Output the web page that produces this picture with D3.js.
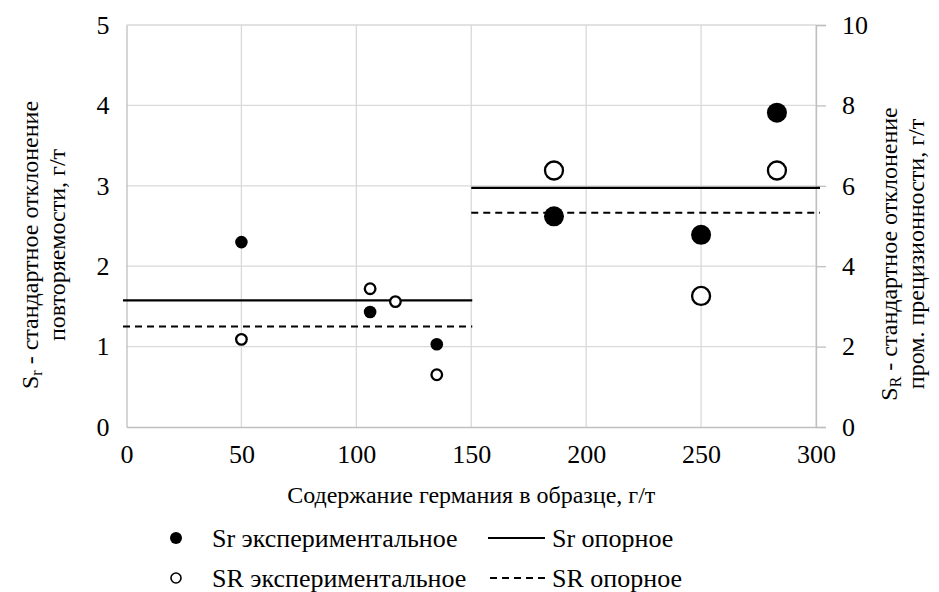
<!DOCTYPE html>
<html>
<head>
<meta charset="utf-8">
<script src="https://cdn.jsdelivr.net/npm/d3@7"></script>
<style>
  body { margin: 0; background: #fff; }
</style>
</head>
<body>
<div id="chart"></div>
<script>
// Data
var xSr = [50, 106, 135, 186, 250, 283];          // Sr experimental, x
var srExp = [2.30, 1.43, 1.03, 2.62, 2.39, 3.91];  // left axis
var xSR = [50, 106, 117, 135, 186, 250, 283];     // SR experimental, x
var SRExp = [2.18, 3.44, 3.12, 1.30, 6.38, 3.26, 6.38]; // right axis
var refRanges = [[0, 150], [150, 300]];
var srRef = [1.575, 2.975];   // left axis
var SRRef = [2.50, 5.33];     // right axis
var xTicks = [0, 50, 100, 150, 200, 250, 300];
var yLeftTicks = [0, 1, 2, 3, 4, 5];
var yRightTicks = [0, 2, 4, 6, 8, 10];

var W = 939, H = 592;
var FONT = "'Liberation Serif', 'Times New Roman', serif";
var FS = "26px";      // ticks, legend
var FT = "24px";      // axis titles
var svg = d3.select("#chart").append("svg")
    .attr("width", W)
    .attr("height", H)
    .style("font-family", FONT);

var x = d3.scaleLinear().domain([0, 300]).range([126.5, 816]);
var yL = d3.scaleLinear().domain([0, 5]).range([427, 25]);
var yR = d3.scaleLinear().domain([0, 10]).range([427, 25]);

// gridlines
svg.append("g").selectAll("line")
    .data(xTicks.slice(1))
    .enter().append("line")
    .attr("x1", function (d) { return x(d); })
    .attr("x2", function (d) { return x(d); })
    .attr("y1", yL(0))
    .attr("y2", yL(5))
    .style("stroke", "#d9d9d9")
    .style("stroke-width", 1.3);

svg.append("g").selectAll("line")
    .data(yLeftTicks.slice(1))
    .enter().append("line")
    .attr("x1", x(0))
    .attr("x2", x(300))
    .attr("y1", function (d) { return yL(d); })
    .attr("y2", function (d) { return yL(d); })
    .style("stroke", "#d9d9d9")
    .style("stroke-width", 1.3);

// axes
var axisBottom = svg.append("g")
    .attr("transform", "translate(0," + yL(0) + ")")
    .call(d3.axisBottom(x).tickValues(xTicks).tickSize(0).tickPadding(18).tickFormat(d3.format("d")));
var axisLeft = svg.append("g")
    .attr("transform", "translate(" + x(0) + ",0)")
    .call(d3.axisLeft(yL).tickValues(yLeftTicks).tickSize(0).tickPadding(17).tickFormat(d3.format("d")));
var axisRight = svg.append("g")
    .attr("transform", "translate(" + x(300) + ",0)")
    .call(d3.axisRight(yR).tickValues(yRightTicks).tickSize(10).tickPadding(16).tickFormat(d3.format("d")));

[axisBottom, axisLeft, axisRight].forEach(function (a) {
    a.attr("font-family", null).attr("font-size", null);
    a.select(".domain").style("stroke", "#bfbfbf").style("stroke-width", 1.3);
    a.selectAll(".tick line").style("stroke", "#bfbfbf").style("stroke-width", 1.3);
    a.selectAll("text")
        .style("font-family", FONT)
        .style("font-size", FS)
        .style("fill", "#000");
});

// reference lines
function refLines(values, scale, dash) {
    svg.append("g").selectAll("line")
        .data(values)
        .enter().append("line")
        .attr("x1", function (d, i) { return x(refRanges[i][0]) - (i === 0 ? 3.5 : 0); })
        .attr("x2", function (d, i) { return x(refRanges[i][1]) + (i === 0 ? 1 : 4); })
        .attr("y1", function (d) { return scale(d); })
        .attr("y2", function (d) { return scale(d); })
        .style("stroke", "#000")
        .style("stroke-width", 2.2)
        .style("stroke-dasharray", dash);
}
refLines(srRef, yL, null);
refLines(SRRef, yR, "7,5");

// markers: small below 150, large above
function rad(xv) { return xv > 150 ? 10 : 6.3; }

svg.append("g").selectAll("circle")
    .data(xSR)
    .enter().append("circle")
    .attr("cx", function (d) { return x(d); })
    .attr("cy", function (d, i) { return yR(SRExp[i]); })
    .attr("r", function (d) { return rad(d) - 1; })
    .style("fill", "#fff")
    .style("stroke", "#000")
    .style("stroke-width", 2.3);

svg.append("g").selectAll("circle")
    .data(xSr)
    .enter().append("circle")
    .attr("cx", function (d) { return x(d); })
    .attr("cy", function (d, i) { return yL(srExp[i]); })
    .attr("r", function (d) { return rad(d); })
    .style("fill", "#000");

// axis titles
svg.append("text")
    .attr("x", (x(0) + x(300)) / 2)
    .attr("y", 495)
    .attr("dominant-baseline", "central")
    .attr("text-anchor", "middle")
    .style("font-size", FT)
    .text("Содержание германия в образце, г/т");

function yTitle(cx, cy, sub, line2) {
    var g = svg.append("g").attr("transform", "translate(" + cx + "," + cy + ") rotate(-90)");
    var t1 = g.append("text")
        .attr("x", 0).attr("y", 0)
        .attr("text-anchor", "middle")
        .attr("dominant-baseline", "central")
        .style("font-size", FT);
    t1.append("tspan").text("S");
    t1.append("tspan").attr("dy", 6).style("font-size", "16px").text(sub);
    t1.append("tspan").attr("dy", -6).text(" - стандартное отклонение");
    g.append("text")
        .attr("x", 0).attr("y", 27)
        .attr("text-anchor", "middle")
        .attr("dominant-baseline", "central")
        .style("font-size", FT)
        .text(line2);
}
yTitle(30, 245, "r", "повторяемости, г/т");
yTitle(889, 254, "R", "пром. прецизионности, г/т");

// legend
var leg1 = 538, leg2 = 578;
svg.append("circle").attr("cx", 176).attr("cy", leg1).attr("r", 6).style("fill", "#000");
svg.append("circle").attr("cx", 176).attr("cy", leg2).attr("r", 5)
    .style("fill", "#fff").style("stroke", "#000").style("stroke-width", 1.6);
svg.append("text").attr("x", 212).attr("y", leg1).attr("dominant-baseline", "central")
    .style("font-size", FS).text("Sr экспериментальное");
svg.append("text").attr("x", 212).attr("y", leg2).attr("dominant-baseline", "central")
    .style("font-size", FS).text("SR экспериментальное");
svg.append("line").attr("x1", 488).attr("x2", 545).attr("y1", leg1).attr("y2", leg1)
    .style("stroke", "#000").style("stroke-width", 2);
svg.append("line").attr("x1", 490).attr("x2", 545).attr("y1", leg2).attr("y2", leg2)
    .style("stroke", "#000").style("stroke-width", 2).style("stroke-dasharray", "7,5");
svg.append("text").attr("x", 552).attr("y", leg1).attr("dominant-baseline", "central")
    .style("font-size", FS).text("Sr опорное");
svg.append("text").attr("x", 552).attr("y", leg2).attr("dominant-baseline", "central")
    .style("font-size", FS).text("SR опорное");
</script>
</body>
</html>
